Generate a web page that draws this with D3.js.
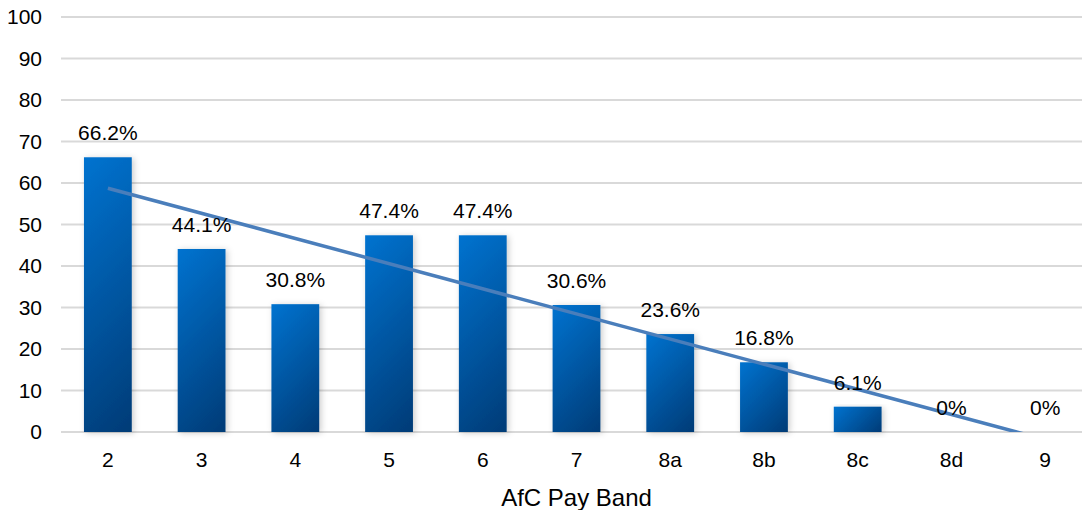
<!DOCTYPE html>
<html>
<head>
<meta charset="utf-8">
<script src="https://cdn.jsdelivr.net/npm/d3@7"></script>
<style>
  html, body { margin: 0; padding: 0; background: #fff; }
  svg { display: block; font-family: "Liberation Sans", Arial, sans-serif; }
</style>
</head>
<body>
<svg id="chart" width="1082" height="510"></svg>
<script>
// AfC pay bands and the percentage recorded for each
const bands = ["2", "3", "4", "5", "6", "7", "8a", "8b", "8c", "8d", "9"];
const values = [66.2, 44.1, 30.8, 47.4, 47.4, 30.6, 23.6, 16.8, 6.1, 0, 0];
const valueLabels = ["66.2%", "44.1%", "30.8%", "47.4%", "47.4%", "30.6%", "23.6%", "16.8%", "6.1%", "0%", "0%"];
const yTicks = [0, 10, 20, 30, 40, 50, 60, 70, 80, 90, 100];
const xTitle = "AfC Pay Band";

const svg = d3.select("#chart");
const plotLeft = 61, plotRight = 1092, plotTop = 17, plotBottom = 432;

const x = d3.scaleBand().domain(bands).range([plotLeft, plotRight]).paddingInner(0.49).paddingOuter(0.245);
const y = d3.scaleLinear().domain([0, 100]).range([plotBottom, plotTop]);

const defs = svg.append("defs");

// one 45° gradient per bar, laid out in pixel space so short and tall bars shade alike
values.forEach((v, i) => {
  const bx = x(bands[i]), by = y(v), w = x.bandwidth(), h = y(0) - y(v);
  const g = defs.append("linearGradient").attr("id", `barFill${i}`)
    .attr("gradientUnits", "userSpaceOnUse")
    .attr("x1", bx).attr("y1", by)
    .attr("x2", bx + (w + h) / 2).attr("y2", by + (w + h) / 2);
  g.append("stop").attr("offset", "0%").attr("stop-color", "#0073D0");
  g.append("stop").attr("offset", "100%").attr("stop-color", "#003B76");
});

const shadow = defs.append("filter").attr("id", "barShadow")
  .attr("x", "-30%").attr("y", "-10%").attr("width", "160%").attr("height", "130%");
shadow.append("feDropShadow").attr("dx", 2).attr("dy", 1).attr("stdDeviation", 3)
  .attr("flood-color", "#000").attr("flood-opacity", 0.2);

defs.append("clipPath").attr("id", "plotClip").append("rect")
  .attr("x", plotLeft).attr("y", plotTop)
  .attr("width", plotRight - plotLeft).attr("height", plotBottom - plotTop);

// horizontal gridlines
svg.append("g").selectAll("line").data(yTicks).join("line")
  .attr("x1", plotLeft).attr("x2", plotRight)
  .attr("y1", d => y(d)).attr("y2", d => y(d))
  .attr("stroke", "#d9d9d9").attr("stroke-width", 2);

// y axis labels
const yAxis = svg.append("g").attr("transform", `translate(${plotLeft - 3},0)`)
  .call(d3.axisLeft(y).tickValues(yTicks).tickSize(0).tickPadding(16));
yAxis.select(".domain").remove();
yAxis.selectAll("text").attr("font-size", 21).attr("fill", "#000")
  .attr("font-family", "Liberation Sans, Arial, sans-serif");

// bars
svg.append("g").selectAll("rect").data(values).join("rect")
  .attr("x", (d, i) => x(bands[i]))
  .attr("width", x.bandwidth())
  .attr("y", d => y(d))
  .attr("height", d => y(0) - y(d))
  .attr("fill", (d, i) => `url(#barFill${i})`)
  .attr("filter", "url(#barShadow)");

// linear trendline (least squares over band positions 1..n)
const n = values.length;
const xs = d3.range(1, n + 1);
const mx = d3.mean(xs), my = d3.mean(values);
const slope = d3.sum(xs, (v, i) => (v - mx) * (values[i] - my)) / d3.sum(xs, v => (v - mx) ** 2);
const intercept = my - slope * mx;
const centre = i => x(bands[i]) + x.bandwidth() / 2;
svg.append("line")
  .attr("clip-path", "url(#plotClip)")
  .attr("x1", centre(0)).attr("y1", y(intercept + slope * 1))
  .attr("x2", centre(n - 1)).attr("y2", y(intercept + slope * n))
  .attr("stroke", "#4A7EBB").attr("stroke-width", 3.5).attr("stroke-linecap", "butt");

// value labels
svg.append("g").selectAll("text").data(values).join("text")
  .attr("x", (d, i) => centre(i))
  .attr("y", d => y(d) - 17)
  .attr("text-anchor", "middle")
  .attr("font-size", 21)
  .attr("fill", "#000")
  .text((d, i) => valueLabels[i]);

// x axis labels
const xAxis = svg.append("g").attr("transform", `translate(0,${plotBottom})`)
  .call(d3.axisBottom(x).tickSize(0).tickPadding(20));
xAxis.select(".domain").remove();
xAxis.selectAll("text").attr("font-size", 21).attr("fill", "#000")
  .attr("font-family", "Liberation Sans, Arial, sans-serif");

// axis title
svg.append("text")
  .attr("x", (plotLeft + plotRight) / 2).attr("y", 506)
  .attr("text-anchor", "middle")
  .attr("font-size", 24)
  .attr("fill", "#000")
  .text(xTitle);
</script>
</body>
</html>
